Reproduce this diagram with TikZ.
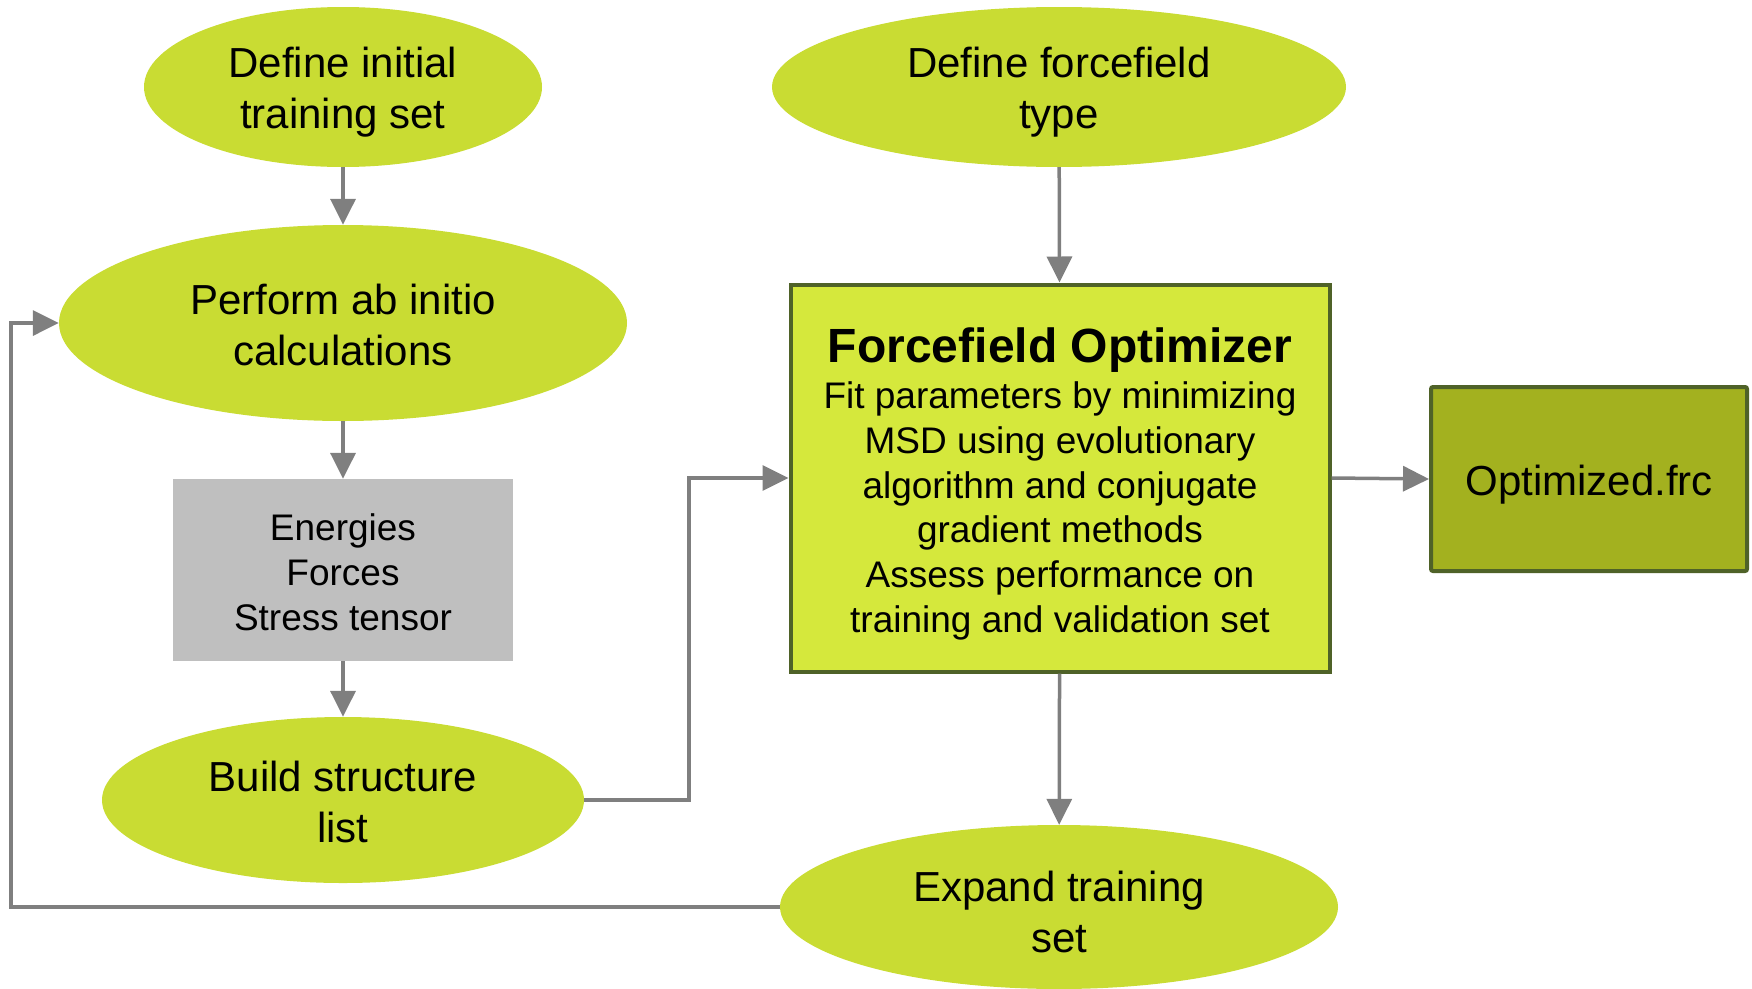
\documentclass[tikz,border=0pt]{standalone}
\usepackage{fontspec}
\setmainfont{Liberation Sans}
\usepackage{tikz}
\usetikzlibrary{arrows.meta,positioning,shapes.geometric}
\definecolor{ffLime}{HTML}{C9DC33}
\definecolor{ffBright}{HTML}{D5E83C}
\definecolor{ffOlive}{HTML}{A3B11F}
\definecolor{ffBorder}{HTML}{4F6228}
\definecolor{ffGray}{HTML}{BFBFBF}
\definecolor{ffLine}{HTML}{7F7F7F}
\newcommand{\fftop}[1]{\rule{0pt}{#1}}
\tikzset{
  ff diagram/.style={text=black, line join=miter},
  ff step/.style={ellipse, fill=ffLime, inner sep=0pt, align=center,
    font=\fontsize{42}{51}\selectfont},
  ff data/.style={rectangle, fill=ffGray, inner sep=0pt, align=center,
    minimum width=340, minimum height=182,
    font=\fontsize{37}{44.7}\selectfont},
  ff core/.style={rectangle, fill=ffBright, draw=ffBorder, line width=4pt,
    inner sep=0pt, align=center, minimum width=539, minimum height=387,
    font=\fontsize{37}{44.7}\selectfont},
  ff output/.style={rectangle, fill=ffOlive, draw=ffBorder, line width=4pt,
    rounded corners=2pt, inner sep=0pt, minimum width=316, minimum height=184,
    font=\fontsize{42}{51}\selectfont},
  ff line/.style={draw=ffLine, line width=3.5pt},
  ff arrow/.style={ff line, -{Triangle[length=26pt, width=25pt]}}
}
\begin{document}
\begin{tikzpicture}[ff diagram, x=1pt, y=-1pt]
\useasboundingbox (0,0) rectangle (1752,988);
% left column
\node[ff step, minimum width=398, minimum height=160] (initial) at (343,87)
  {\fftop{40pt}Define initial\\training set};
\node[ff step, minimum width=568, minimum height=196] (abinitio) at (343,323)
  {\fftop{35pt}Perform ab initio\\calculations};
\node[ff data] (data) at (343,570) {\fftop{31pt}Energies\\Forces\\Stress tensor};
\node[ff step, minimum width=482, minimum height=166] (structures) at (343,800)
  {\fftop{35pt}Build structure\\list};
% right column
\node[ff step, minimum width=574, minimum height=160] (fftype) at (1059,87)
  {\fftop{40pt}Define forcefield\\type};
\node[ff core] (optimizer) at (1060,478)
  {\fftop{46pt}{\fontsize{48}{44.7}\selectfont\bfseries Forcefield Optimizer}\\[2pt]
   Fit parameters by minimizing\\MSD using evolutionary\\algorithm and conjugate\\
   gradient methods\\Assess performance on\\training and validation set};
\node[ff output] (result) at (1589,479) {\fftop{42pt}Optimized.frc};
\node[ff step, minimum width=558, minimum height=164] (expand) at (1059,907)
  {\fftop{40pt}Expand training\\set};
% bends
\coordinate (join) at (689,800);
\coordinate (loop) at (11,907);
% connectors
\draw[ff arrow] (initial) -- (abinitio);
\draw[ff arrow] (abinitio) -- (data);
\draw[ff arrow] (data) -- (structures);
\draw[ff arrow] (fftype) -- (optimizer);
\draw[ff arrow] (structures.east) -- (join) |- (optimizer.west);
\draw[ff arrow] (optimizer.east) -- (result.west);
\draw[ff arrow] (optimizer) -- (expand);
\draw[ff arrow] (expand.west) -- (loop) |- (abinitio.west);
\end{tikzpicture}
\end{document}
